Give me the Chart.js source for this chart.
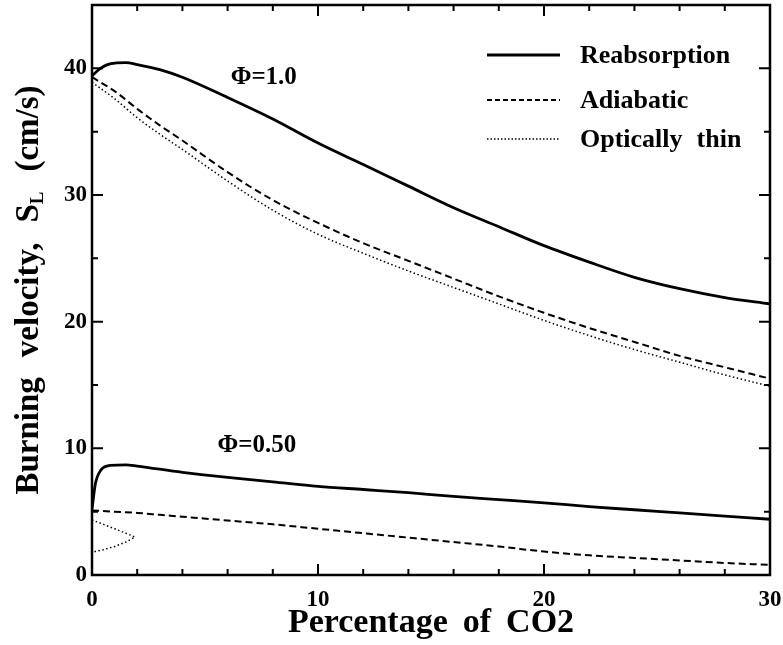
<!DOCTYPE html>
<html>
<head>
<meta charset="utf-8">
<script src="https://cdn.jsdelivr.net/npm/chart.js@4.4.1/dist/chart.umd.min.js"></script>
<style>
  html, body { margin: 0; padding: 0; background: #fff; }
  #wrap { width: 783px; height: 645px; }
</style>
</head>
<body>
<div id="wrap"><canvas id="chart" width="783" height="645"></canvas></div>
<script>
// CO2 dilution (%) against laminar burning velocity S_L (cm/s)
const co2Grid = [0, 1, 2, 3, 4, 6, 8, 10, 12, 14, 16, 18, 20, 22, 24, 26, 28, 30];

// phi = 1.0
const co2Reab10 = [0, 0.3, 0.8, 1.5, 2, 3, 4, 6, 8, 10, 12, 14, 16, 18, 20, 22, 24, 26, 28, 30];
const reabsorption10 = [39.4, 39.9, 40.35, 40.45, 40.3, 39.9, 39.3, 37.7, 36.0, 34.1, 32.4, 30.7, 29.0, 27.5, 26.0, 24.7, 23.5, 22.6, 21.9, 21.4];
const adiabatic10 = [39.3, 38.2, 36.8, 35.5, 34.3, 31.8, 29.6, 27.8, 26.2, 24.8, 23.4, 22.0, 20.7, 19.5, 18.4, 17.3, 16.4, 15.5];
const optThin10 = [38.9, 37.6, 36.1, 34.8, 33.6, 31.1, 28.8, 26.9, 25.4, 24.0, 22.7, 21.4, 20.1, 18.9, 17.8, 16.8, 15.8, 14.9];

// phi = 0.50
const co2Reab05 = [0, 0.15, 0.4, 0.8, 1.5, 2, 4, 6, 8, 10, 12, 14, 16, 18, 20, 22, 24, 26, 28, 30];
const reabsorption05 = [5.2, 7.2, 8.3, 8.65, 8.7, 8.6, 8.1, 7.7, 7.35, 7.0, 6.75, 6.5, 6.2, 5.95, 5.7, 5.4, 5.15, 4.9, 4.65, 4.4];
const adiabatic05 = [5.1, 5.0, 4.9, 4.75, 4.6, 4.3, 4.0, 3.65, 3.3, 2.95, 2.6, 2.25, 1.85, 1.55, 1.35, 1.15, 0.95, 0.8];
// optically thin branch turns back on itself (upper and lower solution)
const co2Thin05 = [0, 0.5, 1.0, 1.5, 1.9, 1.5, 1.0, 0.5, 0];
const optThin05 = [4.35, 4.0, 3.65, 3.3, 3.0, 2.6, 2.25, 2.0, 1.8];

const seriesNames = ['Reabsorption', 'Adiabatic', 'Optically thin'];
const xTicks = [0, 10, 20, 30];
const yTicks = [0, 10, 20, 30, 40];

const FONT = "'Liberation Serif', 'Times New Roman', serif";
const styles = {
  solid: { borderWidth: 2.8, borderDash: [] },
  dashed: { borderWidth: 2, borderDash: [7, 4] },
  dotted: { borderWidth: 1.5, borderDash: [1.5, 2.5] }
};

function pts(xs, ys) {
  return ys.map((v, i) => ({ x: xs[i], y: v }));
}

function series(label, xs, ys, style, mode) {
  return Object.assign({
    label,
    data: pts(xs, ys),
    borderColor: '#000',
    backgroundColor: '#000',
    pointRadius: 0,
    fill: false,
    cubicInterpolationMode: mode || 'monotone',
    tension: mode ? 0 : 0.4
  }, styles[style]);
}

const datasets = [
  series(seriesNames[0], co2Reab10, reabsorption10, 'solid'),
  series(seriesNames[1], co2Grid, adiabatic10, 'dashed'),
  series(seriesNames[2], co2Grid, optThin10, 'dotted'),
  series(seriesNames[0], co2Reab05, reabsorption05, 'solid'),
  series(seriesNames[1], co2Grid, adiabatic05, 'dashed'),
  series(seriesNames[2], co2Thin05, optThin05, 'dotted', 'default')
];

// draws words left to right with a fixed gap, centred on x
function spacedWidth(ctx, parts, gap) {
  let w = 0;
  parts.forEach((p, i) => {
    ctx.font = p.font;
    w += ctx.measureText(p.text).width + (p.joined || i === 0 ? 0 : gap);
  });
  return w;
}

function drawParts(ctx, parts, x, y, gap, align) {
  const total = spacedWidth(ctx, parts, gap);
  let cx = align === 'left' ? x : x - total / 2;
  parts.forEach((p, i) => {
    if (i > 0 && !p.joined) cx += gap;
    ctx.font = p.font;
    ctx.fillText(p.text, cx, y + (p.dy || 0));
    cx += ctx.measureText(p.text).width;
  });
}

const framePlugin = {
  id: 'frame',
  afterDraw(chart, args, opts) {
    const { ctx, chartArea: a, scales: { x, y } } = chart;
    ctx.save();
    ctx.strokeStyle = '#000';
    ctx.lineWidth = 2.5;
    ctx.strokeRect(a.left, a.top, a.right - a.left, a.bottom - a.top);

    ctx.lineWidth = 2;
    ctx.beginPath();
    for (let v = x.min + opts.xMinor; v < x.max; v += opts.xMinor) {
      const px = x.getPixelForValue(v);
      const len = xTicks.includes(v) ? opts.major : opts.minor;
      ctx.moveTo(px, a.bottom); ctx.lineTo(px, a.bottom - len);
      ctx.moveTo(px, a.top); ctx.lineTo(px, a.top + len);
    }
    for (let v = y.min + opts.yMinor; v < y.max; v += opts.yMinor) {
      const py = y.getPixelForValue(v);
      const len = yTicks.includes(v) ? opts.major : opts.minor;
      ctx.moveTo(a.left, py); ctx.lineTo(a.left + len, py);
      ctx.moveTo(a.right, py); ctx.lineTo(a.right - len, py);
    }
    ctx.stroke();
    ctx.restore();
  }
};

const textPlugin = {
  id: 'texts',
  afterDraw(chart, args, opts) {
    const { ctx, chartArea: a, scales: { x, y } } = chart;
    ctx.save();
    ctx.fillStyle = '#000';
    ctx.textBaseline = 'alphabetic';

    // axis titles
    const big = `bold 34px ${FONT}`;
    drawParts(ctx, [
      { text: 'Percentage', font: big },
      { text: 'of', font: big },
      { text: 'CO2', font: big }
    ], (a.left + a.right) / 2, 632, 15);

    ctx.save();
    ctx.translate(38, (a.top + a.bottom) / 2);
    ctx.rotate(-Math.PI / 2);
    const yt = `bold 33px ${FONT}`;
    drawParts(ctx, [
      { text: 'Burning', font: yt },
      { text: 'velocity,', font: yt },
      { text: 'S', font: yt },
      { text: 'L', font: `bold 19px ${FONT}`, joined: true, dy: 5 },
      { text: '(cm/s)', font: yt }
    ], 0, 0, 20);
    ctx.restore();

    // equivalence ratio labels
    ctx.textAlign = 'center';
    ctx.font = `bold 25px ${FONT}`;
    opts.phi.forEach(p => {
      ctx.fillText(p.text, x.getPixelForValue(p.at[0]), y.getPixelForValue(p.at[1]));
    });
    ctx.textAlign = 'left';

    // legend
    const lf = `bold 26px ${FONT}`;
    const L = opts.legend;
    seriesNames.forEach((name, i) => {
      const st = styles[L.kinds[i]];
      const ly = L.rows[i];
      ctx.beginPath();
      ctx.lineWidth = st.borderWidth;
      ctx.setLineDash(L.dashes[i]);
      ctx.moveTo(L.x0, ly);
      ctx.lineTo(L.x1, ly);
      ctx.stroke();
      ctx.setLineDash([]);
      drawParts(ctx, name.split(' ').map(t => ({ text: t, font: lf })), L.tx, ly + 8, 14, 'left');
    });
    ctx.restore();
  }
};

const tickFont = { family: FONT, weight: 'bold', size: 23 };

new Chart(document.getElementById('chart'), {
  type: 'line',
  data: { datasets },
  options: {
    responsive: false,
    animation: false,
    events: [],
    parsing: false,
    layout: { padding: { top: 5, right: 13, left: 0, bottom: 0 } },
    plugins: {
      legend: { display: false },
      tooltip: { enabled: false },
      frame: { xMinor: 2, yMinor: 5, major: 11, minor: 6 },
      texts: {
        phi: [
          { text: 'Φ=1.0', at: [7.6, 38.8] },
          { text: 'Φ=0.50', at: [7.3, 9.7] }
        ],
        legend: {
          x0: 487, x1: 560, tx: 580,
          rows: [55, 100, 139],
          kinds: ['solid', 'dashed', 'dotted'],
          dashes: [[], [5, 3], [1.5, 2]]
        }
      }
    },
    scales: {
      x: {
        type: 'linear',
        min: 0,
        max: 30,
        grid: { display: false, drawTicks: false },
        border: { display: false },
        ticks: { font: tickFont, color: '#000', padding: 11, maxRotation: 0 },
        afterBuildTicks: axis => { axis.ticks = xTicks.map(v => ({ value: v })); },
        afterFit: s => { s.height = 70; s.paddingLeft = 0; s.paddingRight = 0; }
      },
      y: {
        type: 'linear',
        min: 0,
        max: 45,
        grid: { display: false, drawTicks: false },
        border: { display: false },
        ticks: { font: tickFont, color: '#000', padding: 5 },
        afterBuildTicks: axis => { axis.ticks = yTicks.map(v => ({ value: v })); },
        afterFit: s => { s.width = 92; s.paddingTop = 0; s.paddingBottom = 0; }
      }
    }
  },
  plugins: [framePlugin, textPlugin]
});
</script>
</body>
</html>
